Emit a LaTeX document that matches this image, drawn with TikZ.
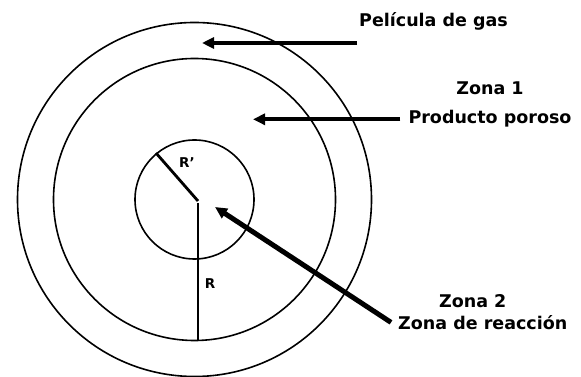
\documentclass[tikz,border=0pt]{standalone}
\usepackage{fontspec}
\setmainfont{DejaVu Sans}
\usetikzlibrary{arrows.meta, positioning, calc}

\begin{document}
\begin{tikzpicture}[
    x=1pt, y=1pt,
    node distance=12pt,
    ring/.style={draw, line width=1.6pt},
    radius line/.style={line width=2pt},
    label/.style={font=\fontsize{17.5}{21}\selectfont\bfseries, inner sep=0pt, text height=13pt, text depth=4pt},
    small label/.style={font=\fontsize{13.5}{15}\selectfont\bfseries, inner sep=0pt},
    arrow/.style={-{Triangle[length=12pt, width=11pt]}, line width=4.3pt}
]
\useasboundingbox (0,0) rectangle (581,377);

% esfera y zonas
\coordinate (c) at (194.5,177.5);
\coordinate (o) at (198,176);
\draw[ring] (c) circle (59.5);
\draw[ring] (c) circle (141);
\draw[ring] (c) circle (177);

% radios
\coordinate (rp) at (156,224);
\coordinate (rb) at (198,36.5);
\draw[radius line, line width=2.8pt] (o) -- (rp);
\draw[radius line] ([yshift=-2pt]o) -- (rb);
\node[small label] (lrp) at (187,214) {R'};
\node[small label] (lr) at (210,93) {R};

% textos
\node[label, anchor=west] (gas) at (359,355.1) {Película de gas};
\node[label] (zona1) at (490,287.1) {Zona 1};
\node[label, below=of zona1] (poroso) {Producto poroso};
\node[label, anchor=west] (reaccion) at (398,51.6) {Zona de reacción};
\node[label, above=4.5pt of reaccion, xshift=-10pt] (zona2) {Zona 2};

% flechas
\coordinate (gastail) at (357,334);
\coordinate (gastip) at (202,334);
\coordinate (porosotip) at (253,0);
\coordinate (reacciontip) at (215,170);
\draw[arrow] (gastail) -- (gastip);
\draw[arrow] ([xshift=-8pt]poroso.west) -- (porosotip |- poroso.west);
\draw[arrow, line width=5pt] ([shift={(-7pt,3pt)}]reaccion.west) -- (reacciontip);

\end{tikzpicture}
\end{document}
